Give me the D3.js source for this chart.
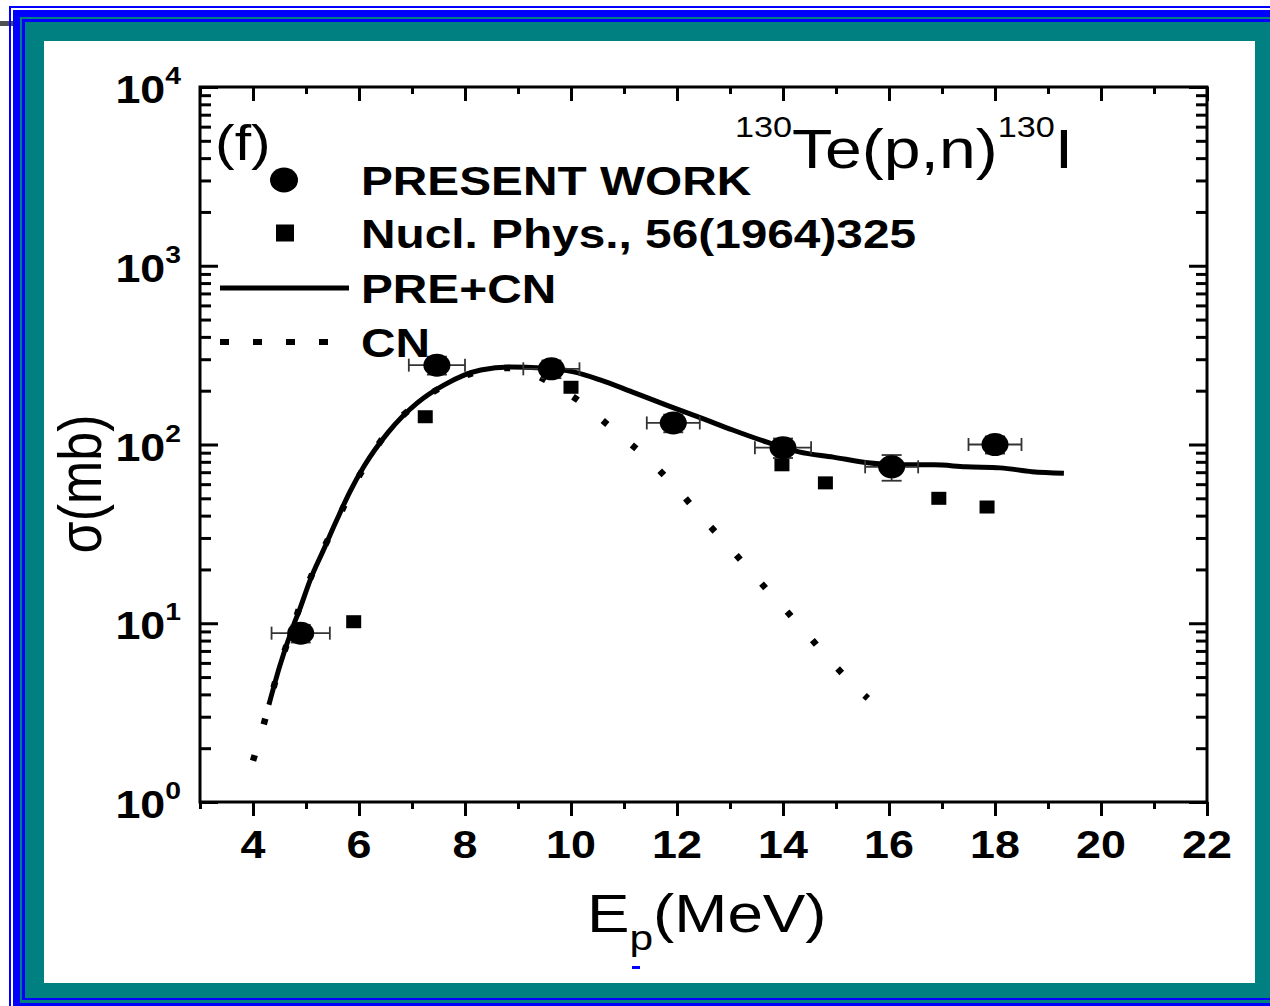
<!DOCTYPE html>
<html>
<head>
<meta charset="utf-8">
<script src="https://cdn.jsdelivr.net/npm/d3@7"></script>
<style>
  html, body { margin: 0; padding: 0; background: #fff; }
  svg { display: block; }
  text { font-family: "Liberation Sans", Arial, Helvetica, sans-serif; fill: #000; }
</style>
</head>
<body>
<svg id="chart" width="1270" height="1006"></svg>
<script>
// 130Te(p,n)130I excitation function

// Present work: proton energy (MeV), cross section (mb) and uncertainties
const presentE        = [4.9, 7.47, 9.63, 11.93, 14.0, 16.05, 18.0];
const presentSigma    = [8.8, 278, 265, 132, 96, 75, 100];
const presentEErr     = [0.55, 0.53, 0.53, 0.5, 0.53, 0.5, 0.5];
const presentSigmaErr = [1.0, 32, 30, 15, 12, 12.3, 11];

// Nucl. Phys. 56 (1964) 325
const nuclE     = [5.9, 7.25, 10.0, 13.98, 14.8, 16.94, 17.85];
const nuclSigma = [10.2, 143, 209, 77, 61, 50, 44.7];

// PRE+CN calculation
const preCnE     = [4.3, 4.5, 4.75, 4.9, 5.08, 5.33, 5.58, 5.83, 6.1, 6.55, 7.1, 7.6, 8.3, 8.85, 9.45, 10.05, 10.55, 11.15, 11.8, 12.45, 13.05, 13.7, 14.3, 14.95, 15.6, 16.2, 16.85, 17.45, 18.1, 18.7, 19.3];
const preCnSigma = [3.5, 5.7, 9.5, 12.4, 17.5, 25.7, 37.8, 54.5, 76, 117, 171, 215, 261, 271, 268, 255, 230, 197, 166, 141, 120.5, 103, 91, 85, 79, 77, 77, 75, 74, 70.5, 69];

// CN calculation
const cnE     = [4.0, 4.2, 4.3, 4.5, 4.75, 5.0, 5.3, 5.6, 5.85, 6.15, 6.5, 7.1, 7.6, 8.3, 8.85, 9.2, 9.6, 10.2, 10.8, 11.45, 12.0, 12.5, 13.0, 13.5, 14.0, 14.5, 15.0, 15.6];
const cnSigma = [1.7, 2.7, 3.5, 5.7, 9.5, 15.5, 25, 38, 55, 79, 114, 170, 213, 258, 268, 255, 222, 171, 121, 83, 56.4, 38.3, 26.4, 17.9, 12.3, 8.4, 5.7, 3.8];

// Axis ticks
const xMajorTicks = [4, 6, 8, 10, 12, 14, 16, 18, 20, 22];
const xMinorTicks = [3, 5, 7, 9, 11, 13, 15, 17, 19, 21];
const yDecades    = [0, 1, 2, 3, 4];

// Legend entries
const legendLabels = ["PRESENT WORK", "Nucl. Phys., 56(1964)325", "PRE+CN", "CN"];

const svg = d3.select("#chart");
const BLUE = "#0000ff", TEAL = "#008080";
const SX = 1.18; // horizontal glyph stretch used for all lettering

// ---- window frame ----
const frame = svg.append("g");
[[9, 6, 1020, BLUE], [11, 8, 1015, "#fff"], [13, 10, 1010, BLUE],
 [20, 17, 1003, TEAL], [22, 19, 1000, BLUE], [25, 22, 998, TEAL]]
  .forEach(([l, t, b, c]) => frame.append("rect")
    .attr("x", l).attr("y", t).attr("width", 1300 - l).attr("height", b - t).attr("fill", c));
frame.append("rect").attr("x", 44).attr("y", 41).attr("width", 1211).attr("height", 942).attr("fill", "#fff");
frame.append("rect").attr("x", 0).attr("y", 21).attr("width", 9).attr("height", 5).attr("fill", "#505050");
frame.append("rect").attr("x", 11).attr("y", 21).attr("width", 2).attr("height", 5).attr("fill", "#505050");

// ---- scales ----
const x = d3.scaleLinear().domain([3, 22]).range([200, 1207]);
const y = d3.scaleLog().domain([1, 1e4]).range([802, 87]);

// text helper: stretched text placed in its own group
function textAt(parent, px, py, size, weight, anchor, extra) {
  const g = parent.append("g")
    .attr("transform", `translate(${px},${py}) scale(${SX},1)` + (extra || ""));
  return g.append("text")
    .attr("text-anchor", anchor)
    .style("font-size", size + "px")
    .style("font-weight", weight);
}

// ---- axes ----
const axes = svg.append("g");
const yMinor = [];
yDecades.slice(0, -1).forEach(k => { for (let m = 2; m <= 9; m++) yMinor.push(m * Math.pow(10, k)); });
const yMajor = yDecades.map(k => Math.pow(10, k));

function styleAxis(g) {
  g.select(".domain").remove();
  g.selectAll(".tick text").remove();
  g.selectAll(".tick line").attr("stroke", "#000").attr("stroke-width", 3);
}
axes.append("g").attr("transform", "translate(0,802)")
  .call(d3.axisBottom(x).tickValues(xMajorTicks).tickSize(14)).call(styleAxis);
axes.append("g").attr("transform", "translate(0,802)")
  .call(d3.axisBottom(x).tickValues(xMinorTicks).tickSize(7)).call(styleAxis);
axes.append("g").attr("transform", "translate(0,87)")
  .call(d3.axisTop(x).tickValues(xMajorTicks).tickSize(-14)).call(styleAxis);
axes.append("g").attr("transform", "translate(0,87)")
  .call(d3.axisTop(x).tickValues(xMinorTicks).tickSize(-7)).call(styleAxis);
axes.append("g").attr("transform", "translate(200,0)")
  .call(d3.axisLeft(y).tickValues(yMajor).tickSize(-18)).call(styleAxis);
axes.append("g").attr("transform", "translate(200,0)")
  .call(d3.axisLeft(y).tickValues(yMinor).tickSize(-11)).call(styleAxis);
axes.append("g").attr("transform", "translate(1207,0)")
  .call(d3.axisRight(y).tickValues(yMajor).tickSize(-18)).call(styleAxis);
axes.append("g").attr("transform", "translate(1207,0)")
  .call(d3.axisRight(y).tickValues(yMinor).tickSize(-11)).call(styleAxis);
axes.append("rect")
  .attr("x", x(3)).attr("y", y(1e4))
  .attr("width", x(22) - x(3)).attr("height", y(1) - y(1e4))
  .attr("fill", "none").attr("stroke", "#000").attr("stroke-width", 3);

// tick labels
xMajorTicks.forEach(v => textAt(axes, x(v), 858, 38, "bold", "middle").text(v));
yDecades.forEach(k => {
  const t = textAt(axes, 181, y(Math.pow(10, k)) + 16, 38, "bold", "end");
  t.append("tspan").text("10");
  t.append("tspan").attr("dy", -19).style("font-size", "24px").text(k);
});

// axis titles
const xt = textAt(svg, 587, 932, 54, "normal", "start");
xt.append("tspan").text("E");
xt.append("tspan").attr("dy", 18).style("font-size", "36px").text("p");
xt.append("tspan").attr("dy", -18).text("(MeV)");
svg.append("rect").attr("x", 632).attr("y", 966).attr("width", 8).attr("height", 3).attr("fill", BLUE);

textAt(svg, 101, 484, 52, "normal", "middle", " rotate(-90)").text("σ(mb)");

// ---- curves ----
const plot = svg.append("g");
const line = d3.line().x(d => x(d[0])).y(d => y(d[1])).curve(d3.curveMonotoneX);

plot.append("path")
  .datum(cnE.map((e, i) => [e, cnSigma[i]]))
  .attr("d", line)
  .attr("fill", "none").attr("stroke", "#000").attr("stroke-width", 6.5)
  .attr("stroke-dasharray", "6 32");

plot.append("path")
  .datum(preCnE.map((e, i) => [e, preCnSigma[i]]))
  .attr("d", line)
  .attr("fill", "none").attr("stroke", "#000").attr("stroke-width", 5)
  .attr("stroke-linejoin", "round");

// ---- Nucl. Phys. squares ----
plot.selectAll("rect.nucl").data(nuclE.map((e, i) => [e, nuclSigma[i]])).join("rect")
  .attr("class", "nucl")
  .attr("x", d => x(d[0]) - 7.5).attr("y", d => y(d[1]) - 6.5)
  .attr("width", 15).attr("height", 13).attr("fill", "#000");

// ---- present work with error bars ----
const present = presentE.map((e, i) => ({ e, s: presentSigma[i], de: presentEErr[i], ds: presentSigmaErr[i] }));
const err = plot.append("g").attr("stroke", "#333").attr("stroke-width", 1.8).attr("fill", "none");
present.forEach(p => {
  const cy = y(p.s), x0 = x(p.e - p.de), x1 = x(p.e + p.de);
  err.append("line").attr("x1", x0).attr("x2", x1).attr("y1", cy).attr("y2", cy);
  err.append("line").attr("x1", x0).attr("x2", x0).attr("y1", cy - 6.5).attr("y2", cy + 6.5);
  err.append("line").attr("x1", x1).attr("x2", x1).attr("y1", cy - 6.5).attr("y2", cy + 6.5);
  const cx = x(p.e), y0 = y(p.s - p.ds), y1 = y(p.s + p.ds);
  err.append("line").attr("x1", cx).attr("x2", cx).attr("y1", y0).attr("y2", y1);
  err.append("line").attr("x1", cx - 10).attr("x2", cx + 10).attr("y1", y0).attr("y2", y0);
  err.append("line").attr("x1", cx - 10).attr("x2", cx + 10).attr("y1", y1).attr("y2", y1);
});
plot.selectAll("ellipse.present").data(present).join("ellipse")
  .attr("class", "present")
  .attr("cx", d => x(d.e)).attr("cy", d => y(d.s))
  .attr("rx", 13.5).attr("ry", 11.5).attr("fill", "#000");

// ---- panel label, reaction and legend ----
const ann = svg.append("g");
textAt(ann, 215, 160, 50, "normal", "start").text("(f)");

const title = textAt(ann, 735, 168, 56, "normal", "start");
title.append("tspan").attr("dy", -31).style("font-size", "29px").text("130");
title.append("tspan").attr("dy", 31).text("Te(p,n)");
title.append("tspan").attr("dy", -31).style("font-size", "29px").text("130");
title.append("tspan").attr("dy", 31).text("I");

const legendRows = [180, 233, 288, 342];
ann.append("ellipse").attr("cx", 284).attr("cy", legendRows[0]).attr("rx", 14).attr("ry", 12.5).attr("fill", "#000");
ann.append("rect").attr("x", 276).attr("y", legendRows[1] - 8.5).attr("width", 18).attr("height", 17).attr("fill", "#000");
ann.append("line").attr("x1", 220).attr("x2", 349).attr("y1", legendRows[2]).attr("y2", legendRows[2])
  .attr("stroke", "#000").attr("stroke-width", 5);
ann.append("line").attr("x1", 220).attr("x2", 332).attr("y1", legendRows[3]).attr("y2", legendRows[3])
  .attr("stroke", "#000").attr("stroke-width", 6).attr("stroke-dasharray", "9 24");
legendLabels.forEach((lab, i) => textAt(ann, 361, legendRows[i] + 15, 40.5, "bold", "start").text(lab));
</script>
</body>
</html>
